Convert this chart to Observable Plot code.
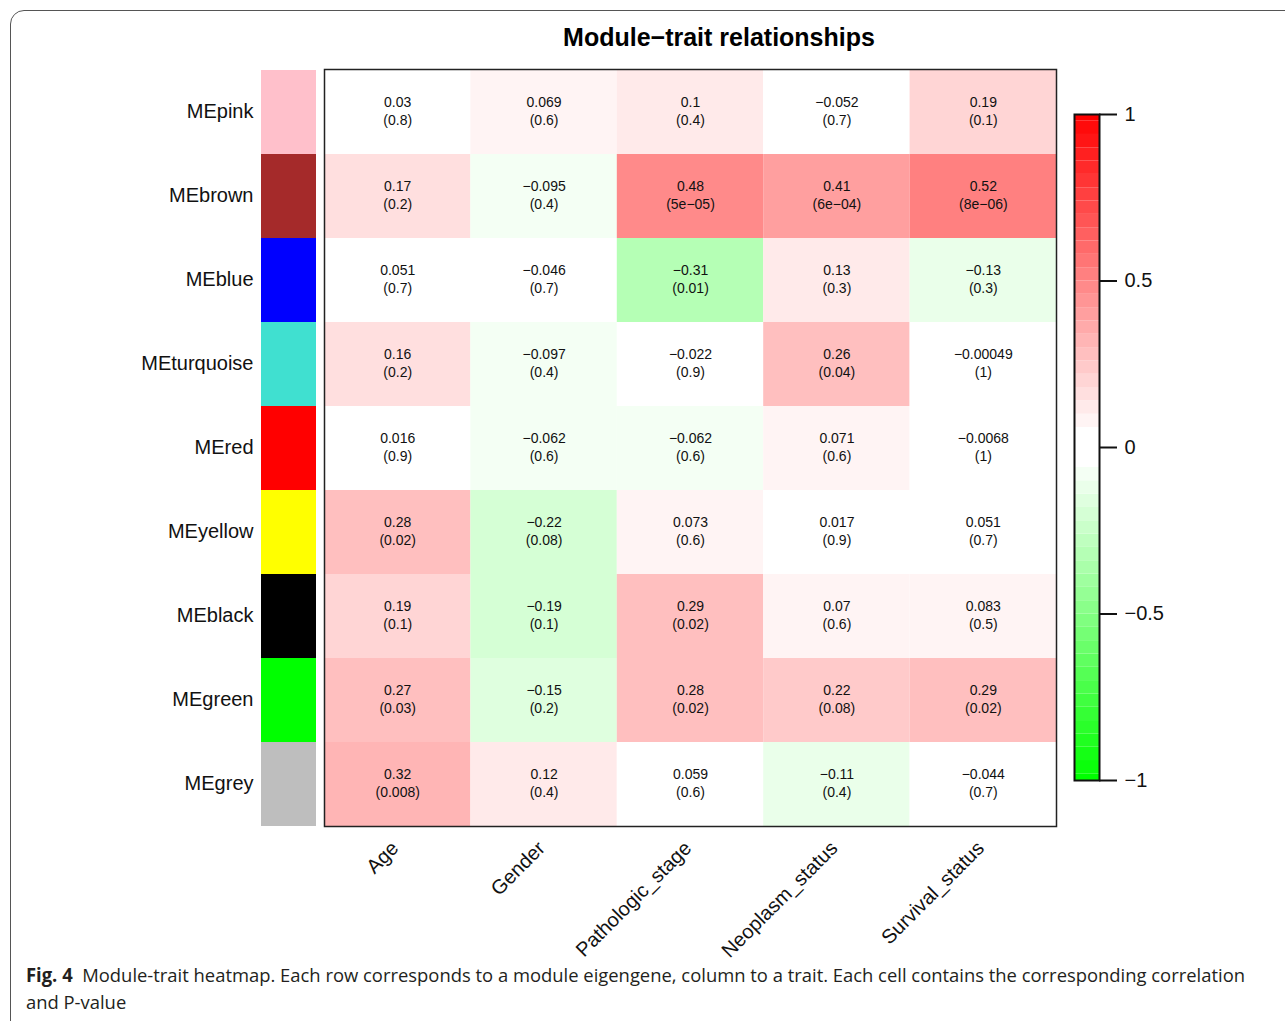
<!DOCTYPE html>
<html>
<head>
<meta charset="utf-8">
<script src="https://cdn.jsdelivr.net/npm/d3@7"></script>
<script src="https://cdn.jsdelivr.net/npm/@observablehq/plot@0.6"></script>
<style>
  html, body { margin: 0; padding: 0; background: #fff; overflow: hidden; }
  #page { position: relative; width: 1285px; height: 1021px; overflow: hidden; background: #fff; }
  #frame { position: absolute; left: 10px; top: 10px; width: 1330px; height: 1050px;
           border: 1.5px solid #555; border-radius: 14px; box-sizing: border-box; }
  #title { position: absolute; left: 0; top: 22px; width: 1438px; text-align: center;
           font: bold 25px/30px "Liberation Sans", Arial, sans-serif; color: #000; }
  #heat { position: absolute; left: 0; top: 0; }
  #legend { position: absolute; left: 1040px; top: 0; }
  #caption { position: absolute; left: 26px; top: 962px; font: 19px/27px "Open Sans", sans-serif;
             color: #231f20; white-space: nowrap; transform-origin: 0 0; }
  #caption b { font-weight: 700; }
</style>
</head>
<body>
<div id="page">
  <div id="frame"></div>
  <div id="heat"></div>
  <div id="legend"></div>
  <div id="title">Module−trait relationships</div>
  <div id="caption"><span id="line1"><b>Fig. 4</b>&nbsp; Module-trait heatmap. Each row corresponds to a module eigengene, column to a trait. Each cell contains the corresponding correlation</span><br>and P-value</div>
</div>
<script>
// Module eigengenes (rows) and their module colours
const modules = ["MEpink", "MEbrown", "MEblue", "MEturquoise", "MEred", "MEyellow", "MEblack", "MEgreen", "MEgrey"];
const moduleColors = ["#FFC0CB", "#A52A2A", "#0000FF", "#40E0D0", "#FF0000", "#FFFF00", "#000000", "#00FF00", "#BEBEBE"];

// Clinical traits (columns)
const traits = ["Age", "Gender", "Pathologic_stage", "Neoplasm_status", "Survival_status"];

// Correlation of each module eigengene with each trait (one array per trait, in module order)
const corAge        = [0.03, 0.17, 0.051, 0.16, 0.016, 0.28, 0.19, 0.27, 0.32];
const corGender     = [0.069, -0.095, -0.046, -0.097, -0.062, -0.22, -0.19, -0.15, 0.12];
const corPathologic = [0.1, 0.48, -0.31, -0.022, -0.062, 0.073, 0.29, 0.28, 0.059];
const corNeoplasm   = [-0.052, 0.41, 0.13, 0.26, 0.071, 0.017, 0.07, 0.22, -0.11];
const corSurvival   = [0.19, 0.52, -0.13, -0.00049, -0.0068, 0.051, 0.083, 0.29, -0.044];

// Corresponding P-values, as printed
const pAge        = ["0.8", "0.2", "0.7", "0.2", "0.9", "0.02", "0.1", "0.03", "0.008"];
const pGender     = ["0.6", "0.4", "0.7", "0.4", "0.6", "0.08", "0.1", "0.2", "0.4"];
const pPathologic = ["0.4", "5e-05", "0.01", "0.9", "0.6", "0.6", "0.02", "0.02", "0.6"];
const pNeoplasm   = ["0.7", "6e-04", "0.3", "0.04", "0.6", "0.9", "0.6", "0.08", "0.4"];
const pSurvival   = ["0.1", "8e-06", "0.3", "1", "1", "0.7", "0.5", "0.02", "0.7"];

// Colour bar tick values
const legendTicks = [1, 0.5, 0, -0.5, -1];

const corByTrait = [corAge, corGender, corPathologic, corNeoplasm, corSurvival];
const pByTrait = [pAge, pGender, pPathologic, pNeoplasm, pSurvival];

const minus = s => String(s).replace(/-/g, "\u2212");

// Long-format table for the heatmap cells
const cells = [];
traits.forEach((t, c) => modules.forEach((m, r) => {
  cells.push({trait: t, col: c, module: m, cor: corByTrait[c][r], p: pByTrait[c][r]});
}));

// Green–white–red ramp in steps of 0.04, white around zero
const steps = 24;
const shade = j => Math.round(255 * (1 - j / steps));
const palette = [];
for (let j = steps; j >= 1; --j) palette.push(d3.rgb(shade(j), 255, shade(j)).formatHex());
palette.push("#ffffff");
for (let j = 1; j <= steps; ++j) palette.push(d3.rgb(255, shade(j), shade(j)).formatHex());
const posCuts = d3.range(steps).map(k => +(0.06 + 0.04 * k).toFixed(2));
const thresholds = [...posCuts.map(v => -v).reverse(), ...posCuts];
const colorOptions = {type: "threshold", domain: thresholds, range: palette};

// Colour bar segments
const edges = [-1, ...thresholds, 1];
const bins = d3.pairs(edges).map(([lo, hi]) => ({lo, hi, mid: (lo + hi) / 2}));

const font = "'Liberation Sans', Arial, Helvetica, sans-serif";
const colW = 146.4;            // pixel width of one trait column
const stripX1 = -63 / colW;    // module colour strip, in column units
const stripX2 = -8 / colW;

const W = 1285, H = 1010;
const heat = Plot.plot({
  width: W, height: H,
  marginLeft: 324, marginRight: 229, marginTop: 69, marginBottom: H - 826,
  style: {fontFamily: font, background: "transparent"},
  x: {type: "linear", domain: [0, traits.length], axis: null},
  y: {type: "band", domain: modules, padding: 0, axis: null},
  color: colorOptions,
  marks: [
    Plot.barX(cells, {x1: "col", x2: d => d.col + 1, y: "module", fill: "cor"}),
    ...modules.map((m, i) => Plot.barX([m], {x1: stripX1, x2: stripX2, y: d => d, fill: moduleColors[i]})),
    Plot.text(cells, {
      x: d => d.col + 0.5, y: "module", dy: -2,
      text: d => `${minus(d.cor)}\n(${minus(d.p)})`,
      fontSize: 14, lineHeight: 1.29, fill: "#111"
    }),
    Plot.text(modules, {x: 0, y: d => d, dx: -71, dy: -1, text: d => d, textAnchor: "end", fontSize: 20, fill: "#111"}),
    Plot.text(traits, {
      x: (d, i) => i + 0.5, frameAnchor: "bottom", dy: 23, dx: 2,
      text: d => d, rotate: -45, textAnchor: "end", fontSize: 20, fill: "#111"
    }),
    Plot.frame({stroke: "#222", strokeWidth: 1.5})
  ]
});
document.getElementById("heat").appendChild(heat);

const LW = 200, LH = 900;
const legend = Plot.plot({
  width: LW, height: LH,
  marginLeft: 34, marginRight: LW - 59, marginTop: 114, marginBottom: LH - 780,
  style: {fontFamily: font, background: "transparent"},
  x: {type: "linear", domain: [0, 1], axis: null},
  y: {type: "linear", domain: [-1, 1], axis: null},
  color: colorOptions,
  marks: [
    Plot.rect(bins, {x1: 0, x2: 1, y1: "lo", y2: "hi", fill: "mid"}),
    Plot.frame({stroke: "#111", strokeWidth: 2}),
    Plot.ruleY(legendTicks, {y: d => d, x1: 1, x2: 1 + 18 / 25, stroke: "#111", strokeWidth: 2}),
    Plot.text(legendTicks, {x: 1, y: d => d, dx: 25, text: d => minus(d), textAnchor: "start", fontSize: 20, fill: "#111"})
  ]
});
document.getElementById("legend").appendChild(legend);

// Fit the caption's first line to the column width
const cap = document.getElementById("caption");
const w1 = document.getElementById("line1").getBoundingClientRect().width;
cap.style.transform = `scaleX(${1219 / w1})`;
</script>
</body>
</html>
